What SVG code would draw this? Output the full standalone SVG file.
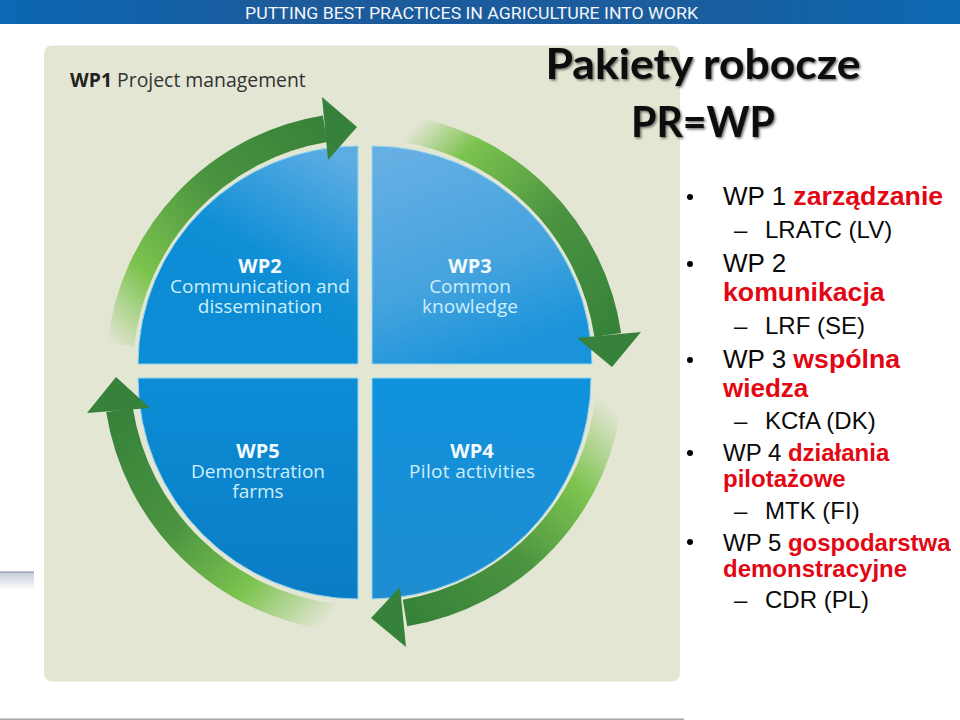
<svg xmlns="http://www.w3.org/2000/svg" width="960" height="720" viewBox="0 0 960 720">
<style>
.lab{font-family:"Open Sans","Noto Sans",sans-serif;font-size:19px;fill:#cfeefa;text-anchor:middle}
.labb{font-family:"Open Sans","Noto Sans",sans-serif;font-size:20px;font-weight:700;fill:#f4fbfe;text-anchor:middle}
.q{stroke:#93d6f0;stroke-width:1}
.band{fill:none;stroke-width:27}
.head{fill:#37823a}
.t{font-family:"Liberation Sans",Arial,sans-serif;font-size:24px;fill:#0a0a0a}
.big{font-size:26px}
.r{font-weight:700;fill:#e30613}
.bigr{font-size:26.7px}
.ti{font-family:Lato,"Noto Sans",sans-serif;font-weight:700;font-size:42px;fill:#0b0b0b;text-anchor:middle;filter:url(#sh)}
</style>
<defs>
<filter id="sh" x="-10%" y="-20%" width="120%" height="150%"><feDropShadow dx="1.5" dy="1.5" stdDeviation="1.2" flood-color="#000" flood-opacity=".55"/></filter>
<linearGradient id="bar" x1="0" x2="1" y1="0" y2="0"><stop offset="0" stop-color="#0b68b2"/><stop offset=".2" stop-color="#1560a6"/><stop offset=".28" stop-color="#1d5b9b"/><stop offset=".7" stop-color="#1b5c9c"/><stop offset="1" stop-color="#0c69b2"/></linearGradient>
<linearGradient id="sm" x1="0" x2="0" y1="0" y2="1"><stop offset="0" stop-color="#c5cad8"/><stop offset="1" stop-color="#fff"/></linearGradient>
<linearGradient id="q2" gradientUnits="userSpaceOnUse" x1="330" y1="150" x2="240" y2="300"><stop offset="0" stop-color="#5dade3"/><stop offset=".7" stop-color="#118fd6"/><stop offset="1" stop-color="#0b8cd4"/></linearGradient>
<linearGradient id="q3" gradientUnits="userSpaceOnUse" x1="400" y1="150" x2="480" y2="364"><stop offset="0" stop-color="#66afe4"/><stop offset=".6" stop-color="#45a3de"/><stop offset="1" stop-color="#1a93da"/></linearGradient>
<linearGradient id="q4" gradientUnits="userSpaceOnUse" x1="480" y1="378" x2="480" y2="599"><stop offset="0" stop-color="#0f92dc"/><stop offset="1" stop-color="#1f8dd2"/></linearGradient>
<linearGradient id="q5" gradientUnits="userSpaceOnUse" x1="250" y1="378" x2="250" y2="599"><stop offset="0" stop-color="#0c8dd6"/><stop offset="1" stop-color="#0a7cc4"/></linearGradient>
<linearGradient id="a1" gradientUnits="userSpaceOnUse" x1="112" y1="345" x2="330" y2="125"><stop offset="0" stop-color="#e3e6d3"/><stop offset=".24" stop-color="#7cc34f"/><stop offset=".6" stop-color="#4a9340"/><stop offset="1" stop-color="#37823a"/></linearGradient>
<linearGradient id="a2" gradientUnits="userSpaceOnUse" x1="395" y1="120" x2="610" y2="335"><stop offset=".06" stop-color="#e3e6d3"/><stop offset=".24" stop-color="#7cc34f"/><stop offset=".6" stop-color="#4a9340"/><stop offset="1" stop-color="#37823a"/></linearGradient>
<linearGradient id="a3" gradientUnits="userSpaceOnUse" x1="612" y1="395" x2="405" y2="615"><stop offset=".03" stop-color="#e3e6d3"/><stop offset=".3" stop-color="#7cc34f"/><stop offset=".62" stop-color="#4a9340"/><stop offset="1" stop-color="#37823a"/></linearGradient>
<linearGradient id="a4" gradientUnits="userSpaceOnUse" x1="335" y1="617" x2="120" y2="410"><stop offset=".01" stop-color="#e3e6d3"/><stop offset=".28" stop-color="#7cc34f"/><stop offset=".6" stop-color="#4a9340"/><stop offset="1" stop-color="#37823a"/></linearGradient>
</defs>
<rect width="960" height="720" fill="#fff"/>
<g id="header">
<rect width="960" height="24" fill="url(#bar)"/>
<text x="245" y="19" font-family="Roboto,'Liberation Sans',sans-serif" font-size="17" fill="#f2f6fa" textLength="453" lengthAdjust="spacingAndGlyphs">PUTTING BEST PRACTICES IN AGRICULTURE INTO WORK</text>
</g>
<rect x="0" y="572" width="34" height="18" fill="url(#sm)"/>
<rect x="0" y="571.5" width="34" height="1" fill="#7a83a0"/>
<rect x="0" y="718.5" width="684" height="1.5" fill="#a6a6a6"/>
<rect id="panel" x="44" y="45.5" width="636" height="636" rx="8" fill="#e3e6d3"/>
<text x="70" y="87" font-family="'Open Sans','Noto Sans',sans-serif" font-size="19.4" fill="#333"><tspan font-weight="700" fill="#222">WP1</tspan> Project management</text>
<g id="WP2"><path class="q" d="M358 364V146A220 218 0 0 0 138 364Z" fill="url(#q2)"/><text class="labb" x="260" y="273">WP2</text><text class="lab" x="260" y="293">Communication and</text><text class="lab" x="260" y="313">dissemination</text></g>
<g id="WP3"><path class="q" d="M372 364V146A220 218 0 0 1 592 364Z" fill="url(#q3)"/><text class="labb" x="470" y="273">WP3</text><text class="lab" x="470" y="293">Common</text><text class="lab" x="470" y="313">knowledge</text></g>
<g id="WP4"><path class="q" d="M372 378V599A220 221 0 0 0 591 378Z" fill="url(#q4)"/><text class="labb" x="472" y="458">WP4</text><text class="lab" x="472" y="478" textLength="126" lengthAdjust="spacing">Pilot activities</text></g>
<g id="WP5"><path class="q" d="M358 378V599A220 221 0 0 1 138 378Z" fill="url(#q5)"/><text class="labb" x="258" y="458">WP5</text><text class="lab" x="258" y="478">Demonstration</text><text class="lab" x="258" y="498">farms</text></g>
<g id="connectors">
<path class="band" stroke="url(#a1)" d="M120.9 345A245.5 245.5 0 0 1 325 128.8"/><polygon class="head" points="322,97 357,127 328,160"/>
<path class="band" stroke="url(#a2)" d="M400 128A245.5 245.5 0 0 1 607.8 335"/><polygon class="head" points="577,338 641,332 612,367"/>
<path class="band" stroke="url(#a3)" d="M609.3 395A245.5 245.5 0 0 1 405 613"/><polygon class="head" points="400,587 406,647 371,618"/>
<path class="band" stroke="url(#a4)" d="M333 617A248 248 0 0 1 119.5 410"/><polygon class="head" points="87,413 150,408 116,377"/>
</g>
<g id="title"><text class="ti" x="703" y="79" textLength="315" lengthAdjust="spacingAndGlyphs">Pakiety robocze</text><text class="ti" x="703" y="137" textLength="144" lengthAdjust="spacingAndGlyphs">PR=WP</text></g>
<g id="list">
<circle cx="690" cy="197" r="3"/><circle cx="690" cy="264" r="3"/><circle cx="690" cy="360" r="3"/><circle cx="690" cy="453" r="3"/><circle cx="690" cy="542" r="3"/>
<text class="t big" x="723" y="205">WP 1 <tspan class="r bigr">zarządzanie</tspan></text>
<text class="t" x="734" y="238">–</text><text class="t" x="765" y="238">LRATC (LV)</text>
<text class="t big" x="723" y="272">WP 2</text>
<text class="t big r bigr" x="723" y="301">komunikacja</text>
<text class="t" x="734" y="334">–</text><text class="t" x="765" y="334">LRF (SE)</text>
<text class="t big" x="723" y="368">WP 3 <tspan class="r bigr">wspólna</tspan></text>
<text class="t big r" x="723" y="397">wiedza</text>
<text class="t" x="734" y="429">–</text><text class="t" x="765" y="429">KCfA (DK)</text>
<text class="t" x="723" y="461">WP 4 <tspan class="r">działania</tspan></text>
<text class="t r" x="723" y="487">pilotażowe</text>
<text class="t" x="734" y="519">–</text><text class="t" x="765" y="519">MTK (FI)</text>
<text class="t" x="723" y="551">WP 5 <tspan class="r">gospodarstwa</tspan></text>
<text class="t r" x="723" y="577">demonstracyjne</text>
<text class="t" x="734" y="608">–</text><text class="t" x="765" y="608">CDR (PL)</text>
</g>
</svg>
